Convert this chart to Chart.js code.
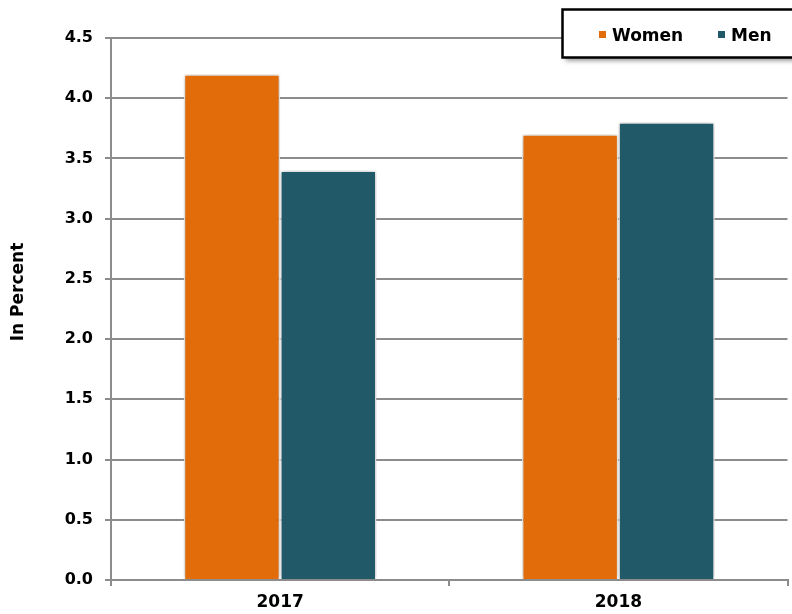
<!DOCTYPE html>
<html>
<head>
<meta charset="utf-8">
<title>In Percent, 2017–2018</title>
<script src="https://cdn.jsdelivr.net/npm/chart.js@4/dist/chart.umd.min.js"></script>
<style>
  html, body { margin: 0; padding: 0; background: #ffffff; }
  #wrap { width: 792px; height: 614px; position: relative; }
</style>
</head>
<body>
<div id="wrap"><canvas id="chart" width="792" height="614"></canvas></div>
<script>
// Data
const years = ['2017', '2018'];
const womenValues = [4.2, 3.7];
const menValues = [3.4, 3.8];
const seriesNames = ['Women', 'Men'];
const yAxisTitle = 'In Percent';
const yMin = 0, yMax = 4.5, yStep = 0.5;

const FONT = "'DejaVu Sans', 'Liberation Sans', Arial, sans-serif";
const WOMEN_COLOR = '#E36C0A';
const MEN_COLOR = '#215968';
const GRID_COLOR = '#8c8c8c';

// Soft shadow behind each bar
const barShadow = {
  id: 'barShadow',
  beforeDatasetsDraw(chart) {
    const ctx = chart.ctx;
    ctx.save();
    ctx.shadowColor = 'rgba(0,0,0,0.30)';
    ctx.shadowBlur = 6;
    ctx.shadowOffsetX = 0;
    ctx.shadowOffsetY = 0;
  },
  afterDatasetsDraw(chart) {
    chart.ctx.restore();
  }
};

// Rotated y-axis title
const yTitle = {
  id: 'yTitle',
  afterDraw(chart) {
    const ctx = chart.ctx;
    ctx.save();
    ctx.translate(19, 292);
    ctx.rotate(-Math.PI / 2);
    ctx.font = 'bold 17px ' + FONT;
    ctx.fillStyle = '#000';
    ctx.textAlign = 'center';
    ctx.textBaseline = 'middle';
    ctx.fillText(yAxisTitle, 0, 0);
    ctx.restore();
  }
};

// Boxed legend in the top-right corner
const boxedLegend = {
  id: 'boxedLegend',
  afterDraw(chart) {
    const ctx = chart.ctx;
    const x = 562.5, y = 9.5, w = 240, h = 48;
    ctx.save();
    ctx.shadowColor = 'rgba(0,0,0,0.45)';
    ctx.shadowBlur = 5;
    ctx.shadowOffsetX = 2;
    ctx.shadowOffsetY = 3;
    ctx.fillStyle = '#ffffff';
    ctx.fillRect(x, y, w, h);
    ctx.restore();
    ctx.save();
    ctx.lineWidth = 2.5;
    ctx.strokeStyle = '#000';
    ctx.strokeRect(x, y, w, h);
    ctx.font = 'bold 17px ' + FONT;
    ctx.textBaseline = 'alphabetic';
    ctx.textAlign = 'left';
    const entries = chart.data.datasets.map(d => ({ label: d.label, color: d.backgroundColor }));
    const squareX = [599, 718];
    const textX = [612, 731];
    entries.forEach((e, i) => {
      ctx.fillStyle = e.color;
      ctx.fillRect(squareX[i], 31, 7, 7);
      ctx.fillStyle = '#000';
      ctx.fillText(e.label, textX[i], 41);
    });
    ctx.restore();
  }
};

new Chart(document.getElementById('chart'), {
  type: 'bar',
  data: {
    labels: years,
    datasets: [
      {
        label: seriesNames[0],
        data: womenValues,
        backgroundColor: WOMEN_COLOR,
        borderColor: '#ffffff',
        borderWidth: { top: 1.5, left: 1.5, right: 1.5, bottom: 0 },
        borderSkipped: false
      },
      {
        label: seriesNames[1],
        data: menValues,
        backgroundColor: MEN_COLOR,
        borderColor: '#ffffff',
        borderWidth: { top: 1.5, left: 1.5, right: 1.5, bottom: 0 },
        borderSkipped: false
      }
    ]
  },
  options: {
    responsive: false,
    animation: false,
    devicePixelRatio: 1,
    layout: { padding: { top: 38, right: 4.5, bottom: 0, left: 0 } },
    datasets: { bar: { categoryPercentage: 0.57, barPercentage: 1.0 } },
    plugins: {
      legend: { display: false },
      tooltip: { enabled: false }
    },
    scales: {
      x: {
        offset: true,
        grid: {
          display: true,
          offset: true,
          drawOnChartArea: false,
          drawTicks: true,
          tickLength: 6,
          color: GRID_COLOR,
          lineWidth: 2
        },
        border: { display: true, color: GRID_COLOR, width: 2 },
        ticks: {
          color: '#000',
          font: { family: FONT, size: 17, weight: 'bold' },
          padding: 6
        },
        afterFit(scale) { scale.height = 34; }
      },
      y: {
        min: yMin,
        max: yMax,
        grid: {
          color: GRID_COLOR,
          lineWidth: 2,
          drawTicks: true,
          tickLength: 6
        },
        border: { display: true, color: GRID_COLOR, width: 2 },
        ticks: {
          stepSize: yStep,
          color: '#000',
          padding: 12,
          font: { family: FONT, size: 16, weight: 'bold' },
          callback: v => Number(v).toFixed(1)
        },
        afterFit(scale) { scale.width = 111; }
      }
    }
  },
  plugins: [barShadow, yTitle, boxedLegend]
});
</script>
</body>
</html>
